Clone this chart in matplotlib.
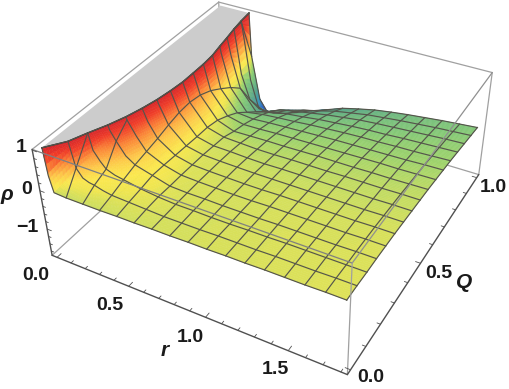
import numpy as np
import matplotlib
matplotlib.use('Agg')
import matplotlib.pyplot as plt
from matplotlib.colors import LinearSegmentedColormap
from mpl_toolkits.mplot3d.art3d import Poly3DCollection

W, H = 510, 389

# r samples (extra ones near the steep wall), Q mesh lines
r_vals = [0, .01, .03, .1125, .15, .19, .225, .28, .3375, .45, .5625, .675, .7875, .9,
          1.0125, 1.125, 1.2375, 1.35, 1.4625, 1.575, 1.6875, 1.8]
q_vals = [0, .0625, .125, .1875, .25, .3125, .375, .4375, .5, .5625, .625, .6875, .75,
          .8125, .875, .9375, 1]
# r where the surface leaves the top of the box, for each Q
r_cap = [0, .085, .13, .18, .22, .25, .273, .288, .298, .298, .297, .29, .272, .256, .238, .224, .215]
# rho, one row per Q (1 = cut off by the top of the box)
rho = [
    [1, .35, -.05, -.07, -.07, -.07, -.07, -.07, -.07, -.06, -.06, -.05, -.05, -.04, -.04, -.03, -.03, -.02, -.02, -.02, -.01, -.01],
    [1, 1, 1, .4, .2, .14, .12, .06, .02, 0, -.02, -.04, -.04, -.04, -.03, -.03, -.03, -.02, -.02, -.02, -.01, -.01],
    [1, 1, 1, 1, .62, .4, .25, .17, .13, .05, 0, -.03, -.03, -.04, -.04, -.03, -.03, -.02, -.02, -.02, -.02, -.02],
    [1, 1, 1, 1, 1, .9, .68, .38, .23, .11, -.01, -.03, -.03, -.04, -.04, -.04, -.03, -.03, -.03, -.03, -.02, -.02],
    [1, 1, 1, 1, 1, 1, .95, .6, .3, .1, -.01, -.03, -.04, -.05, -.05, -.04, -.04, -.04, -.04, -.04, -.03, -.03],
    [1, 1, 1, 1, 1, 1, 1, .72, .37, .08, -.02, -.04, -.05, -.06, -.06, -.05, -.05, -.05, -.05, -.05, -.04, -.04],
    [1, 1, 1, 1, 1, 1, 1, .93, .46, .06, -.03, -.05, -.06, -.07, -.07, -.07, -.07, -.07, -.07, -.07, -.06, -.06],
    [1, 1, 1, 1, 1, 1, 1, 1, .53, .04, -.06, -.07, -.09, -.1, -.09, -.09, -.09, -.09, -.09, -.09, -.08, -.08],
    [1, 1, 1, 1, 1, 1, 1, 1, .55, .03, -.09, -.11, -.13, -.13, -.12, -.12, -.12, -.11, -.11, -.11, -.1, -.1],
    [1, 1, 1, 1, 1, 1, 1, 1, .5, -.03, -.19, -.18, -.17, -.17, -.16, -.15, -.15, -.15, -.14, -.14, -.13, -.12],
    [1, 1, 1, 1, 1, 1, 1, 1, .38, -.16, -.26, -.25, -.23, -.22, -.21, -.2, -.19, -.18, -.17, -.17, -.16, -.15],
    [1, 1, 1, 1, 1, 1, 1, 1, .2, -.32, -.36, -.33, -.31, -.29, -.27, -.25, -.24, -.23, -.22, -.21, -.19, -.18],
    [1, 1, 1, 1, 1, 1, 1, .85, 0, -.55, -.48, -.44, -.41, -.37, -.34, -.31, -.29, -.28, -.26, -.25, -.23, -.21],
    [1, 1, 1, 1, 1, 1, 1, .55, -.25, -.78, -.64, -.58, -.53, -.47, -.43, -.39, -.36, -.34, -.31, -.29, -.27, -.25],
    [1, 1, 1, 1, 1, 1, 1, -.15, -.8, -1.03, -.84, -.75, -.67, -.59, -.53, -.47, -.43, -.4, -.37, -.34, -.31, -.29],
    [1, 1, 1, 1, 1, 1, .98, -.55, -1.3, -1.3, -1.09, -.96, -.85, -.73, -.65, -.57, -.52, -.47, -.43, -.39, -.36, -.33],
    [1, 1, 1, 1, 1, 1, -.15, -1.33, -1.65, -1.56, -1.4, -1.22, -1.06, -.89, -.78, -.68, -.61, -.55, -.5, -.45, -.41, -.37],
]
r_mesh = [.1125, .225, .3375, .45, .5625, .675, .7875, .9, 1.0125, 1.125, 1.2375, 1.35, 1.4625, 1.575, 1.6875]

rlim = (-0.036, 1.836)
qlim = (-0.02, 1.02)
zlim = (-1.72, 1.02)

# colours, by rho
color_stops = [(-1.72, '#3c28aa'), (-1.4, '#2d5ac8'), (-1.1, '#3c96be'), (-.82, '#5aa58c'),
               (-.37, '#82c878'), (-.2, '#a0d46c'), (-.07, '#cdde5f'), (.05, '#f0e650'),
               (.15, '#fbe84f'), (.35, '#fdc84a'), (.6, '#fb8a38'), (.85, '#f03c28'),
               (1.02, '#d8282a')]
cmap = LinearSegmentedColormap.from_list(
    'rho', [((z - zlim[0]) / (zlim[1] - zlim[0]), c) for z, c in color_stops])

fig = plt.figure(figsize=(W / 100, H / 100), dpi=100)
ax = fig.add_axes([36.56 / W, -11.80 / H, 462.98 / W, 462.98 / H], projection='3d')
ax.computed_zorder = False
ax.set_xlim(*rlim, view_margin=0)
ax.set_ylim(*qlim, view_margin=0)
ax.set_zlim(*zlim, view_margin=0)
ax.view_init(elev=36.5351, azim=-60.2017, roll=0.9318)
ax.set_proj_type('persp', focal_length=0.4104)
ax.set_box_aspect((1, 1.0001, 0.3984))
ax.set_axis_off()

r0, r1 = rlim
q0, q1 = qlim
z0, z1 = zlim

r = np.array(r_vals)
q = np.array(q_vals)
cap = np.array(r_cap)
Z = np.array(rho, dtype=float)
Z[Z >= 1] = z1
Q, R = np.meshgrid(q, r, indexing='ij')
R = np.maximum(R, cap[:, None])

# facets for painting: each row starts at the cap edge so the colour follows it
t = np.linspace(0, 1, 71) ** 2
Rp = np.array([c + (1.8 - c) * t for c in cap])
Zp = np.array([np.interp(Rp[i], R[i], Z[i]) for i in range(len(q))])
n = 8
ii = np.linspace(0, len(q) - 1, (len(q) - 1) * n + 1)
Rf = np.array([np.interp(ii, np.arange(len(q)), c) for c in Rp.T]).T
Zf = np.array([np.interp(ii, np.arange(len(q)), c) for c in Zp.T]).T
Qf = np.repeat(np.interp(ii, np.arange(len(q)), q)[:, None], len(t), axis=1)
fc = cmap((Zf - z0) / (z1 - z0))

# grey cap where the surface is cut by the top of the box
cap_poly = [(0, 0, z1), (0, 1, z1)] + [(a, b, z1) for a, b in zip(cap[::-1], q[::-1])]
ax.add_collection3d(Poly3DCollection([cap_poly], facecolor='#cccccc', edgecolor='none', zorder=2))

BOX = '#a0a0a0'
AXC = '#505050'


def box_line(x, y, z, c=BOX, lw=0.9, zo=1):
    ax.plot(x, y, z, color=c, lw=lw, zorder=zo, clip_on=False, solid_capstyle='round')


# edges behind the surface
box_line([r0, r0], [q1, q1], [z0, z1], zo=1)
box_line([r0, r1], [q1, q1], [z0, z0], zo=1)
box_line([r0, r0], [q0, q1], [z0, z0], zo=1)
box_line([r0, r1], [q1, q1], [z1, z1], zo=1)
box_line([r0, r0], [q0, q1], [z1, z1], zo=1)
box_line([r1, r1], [q1, q1], [z0, z1], zo=1)

ax.plot_surface(Rf, Qf, Zf, facecolors=fc, rstride=1, cstride=1, shade=False,
                linewidth=0.35, antialiased=True, zorder=3)

# mesh lines
MESH = '#55554c'
for i in range(len(q_vals)):
    ax.plot(R[i], Q[i], Z[i], color=MESH, lw=0.85, zorder=4, clip_on=False)
for rv in r_mesh:
    j = r_vals.index(rv)
    rows = np.where(r[j] >= cap - 0.02)[0]
    # break the line where it runs under the cap
    for g in np.split(rows, np.where(np.diff(rows) > 1)[0] + 1):
        if len(g) > 1:
            ax.plot(R[g, j], Q[g, j], Z[g, j], color=MESH, lw=0.85, zorder=4, clip_on=False)
ax.plot(cap, q, np.full_like(q, z1), color='#303030', lw=1.0, zorder=4, clip_on=False)
ax.plot(R[:, -1], Q[:, -1], Z[:, -1], color=MESH, lw=0.85, zorder=4, clip_on=False)
ax.plot(R[:, 0], Q[:, 0], Z[:, 0], color=MESH, lw=0.85, zorder=4, clip_on=False)

# box edges in front of the surface
box_line([r0, r1], [q0, q0], [z1, z1], c='#808080', zo=5)
box_line([r1, r1], [q0, q1], [z1, z1], c='#909090', zo=5)
box_line([r1, r1], [q0, q0], [z0, z1], c='#a0a0a0', zo=5)

# the three axes with ticks
box_line([r0, r1], [q0, q0], [z0, z0], c=AXC, lw=1.0, zo=6)
box_line([r1, r1], [q0, q1], [z0, z0], c=AXC, lw=1.0, zo=6)
box_line([r0, r0], [q0, q0], [z0, z1], c=AXC, lw=1.0, zo=6)

r_ticks = [i / 10 for i in range(19)]
q_ticks = [i / 10 for i in range(11)]
z_ticks = [-1.6 + i * .2 for i in range(14)]
for t_ in r_ticks:
    major = abs(t_ * 2 - round(t_ * 2)) < 1e-6
    box_line([t_, t_], [q0, q0 + (.02 if major else .012)], [z0, z0], c=AXC, lw=0.6, zo=6)
for t_ in q_ticks:
    major = abs(t_ * 2 - round(t_ * 2)) < 1e-6
    box_line([r1, r1 - (.03 if major else .02)], [t_, t_], [z0, z0], c=AXC, lw=0.6, zo=6)
for t_ in z_ticks:
    major = abs(t_ - round(t_)) < 1e-6
    box_line([r0, r0 + (.03 if major else .018)], [q0, q0], [t_, t_], c=AXC, lw=0.6, zo=6)


# tick and axis labels
def label(x, y, s, **kw):
    fig.text(x / W, 1 - y / H, s, ha='center', va='center', family='Liberation Sans', **kw)


num = dict(fontsize=14, fontweight='bold', color='#1a1a1a')
for x, y, s in [(36, 276, '0.0'), (110, 306, '0.5'), (190, 337, '1.0'), (275, 369, '1.5'),
                (371, 378, '0.0'), (439, 273, '0.5'), (493, 187, '1.0'),
                (21, 147, '1'), (27, 189, '0'), (27, 228, '\u22121')]:
    label(x, y, s, **num)
ital = dict(fontsize=15, fontweight='bold', style='italic', color='#1a1a1a')
label(7, 194, '\u03c1', **ital)
label(165, 350, 'r', **ital)
label(464, 283, 'Q', **ital)

fig.savefig('out.png', dpi=100)
